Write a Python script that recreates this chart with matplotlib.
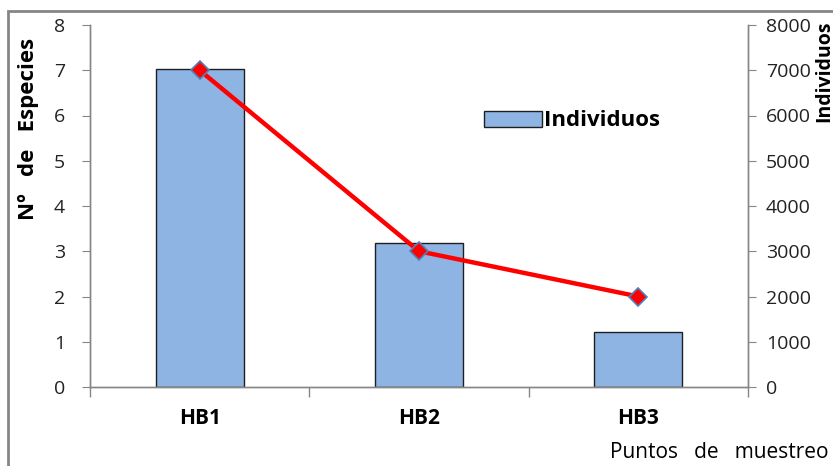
import numpy as np
import matplotlib
matplotlib.use("Agg")
from matplotlib import pyplot as plt
from matplotlib.patches import Rectangle

# data
puntos = ["HB1", "HB2", "HB3"]
individuos = [7030, 3190, 1210]
especies = [7, 3, 2]

plt.rcParams['font.family'] = ['Open Sans', 'DejaVu Sans']

fig = plt.figure(figsize=(8.33, 4.66), dpi=100)
ax = fig.add_axes([90/833, 1-387/466, 658/833, 362/466])
ax2 = ax.twinx()

x = np.arange(len(puntos))
ax2.bar(x, individuos, width=0.4, color="#8EB4E3", edgecolor="#1f1f1f",
        linewidth=1.0, label="Individuos")
ax.plot(x, especies, color="#FF0000", linewidth=3.2, marker="D",
        markersize=9.5, markerfacecolor="#FF0000", markeredgecolor="#4F81BD",
        markeredgewidth=1.2, zorder=5)

# line above the bars
ax.set_zorder(ax2.get_zorder() + 1)
ax.patch.set_visible(False)

ax.set_xlim(-0.5, 2.5)
ax.set_ylim(0, 8)
ax2.set_ylim(0, 8000)
ax.set_yticks(range(0, 9))
ax2.set_yticks(range(0, 8001, 1000))

ax.set_xticks(x)
ax.set_xticklabels(puntos, fontweight="bold", fontsize=15)
ax.set_xticks([-0.5, 0.5, 1.5, 2.5], minor=True)
ax.tick_params(axis="x", which="major", length=0, pad=15)
ax.tick_params(axis="x", which="minor", length=7, color="#868686", width=1)

ax.tick_params(axis="y", length=6, color="#868686", pad=12, labelsize=14,
               labelcolor="#222222")
ax2.tick_params(axis="y", length=6, color="#868686", pad=7, labelsize=14,
                labelcolor="#222222")

for a in (ax, ax2):
    a.spines["top"].set_visible(False)
    for s in ("left", "right", "bottom"):
        a.spines[s].set_color("#868686")
        a.spines[s].set_linewidth(1.0)

ax.set_ylabel("Nº   de   Especies", fontweight="bold", fontsize=16)
ax.yaxis.set_label_coords(-0.078, 0.713)
ax2.set_ylabel("Individuos", fontsize=14, fontweight="bold")
ax2.yaxis.set_label_coords(1.1, 0.873)

fig.text(828/833, 1-453/466, "Puntos   de   muestreo", ha="right",
         va="center", fontsize=15)

leg = ax2.legend(loc="center", bbox_to_anchor=(0.733, 0.735), frameon=False,
                 prop={"weight": "bold", "size": 16}, handlelength=2.6,
                 handleheight=0.75, handletextpad=0.1)

# outer chart border
fig.patches.append(Rectangle((8/833, -0.2), 1.0, 0.2 + 1 - 11/466,
                             transform=fig.transFigure, fill=False,
                             edgecolor="#868686", linewidth=2))

fig.savefig("out.png", dpi=100)
